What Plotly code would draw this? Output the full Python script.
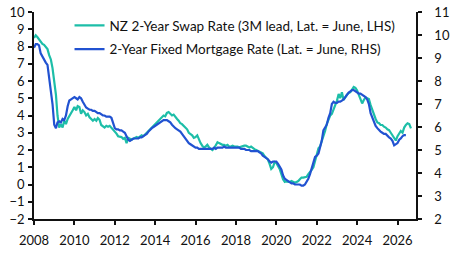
import pandas as pd
import plotly.graph_objects as go

swap_name = "NZ 2-Year Swap Rate (3M lead, Lat. = June, LHS)"
mort_name = "2-Year Fixed Mortgage Rate (Lat. = June, RHS)"

# NZ 2-year swap rate, monthly from Jan 2008 (shifted 3 months ahead), LHS
swap = [
    8.5, 8.65, 8.55, 8.42, 8.35, 8.15, 8.1, 7.95, 7.85, 7.5, 7.25, 6.75,   # 2008
    6.1, 5.2, 4.0, 3.3, 3.5, 3.3, 3.7, 3.5, 3.8, 3.95, 4.1, 4.3,          # 2009
    4.5, 4.3, 4.55, 4.5, 4.1, 4.3, 4.2, 4.0, 4.1, 3.9, 3.8, 3.7,          # 2010
    3.8, 3.7, 3.85, 3.75, 3.45, 3.35, 3.3, 3.4, 3.35, 3.4, 3.3, 3.15,     # 2011
    3.1, 2.95, 2.8, 2.75, 2.75, 2.65, 2.7, 2.4, 2.7, 2.65, 2.6, 2.65,     # 2012
    2.7, 2.75, 2.7, 2.8, 2.85, 2.8, 2.9, 3.0, 3.15, 3.25, 3.35, 3.4,      # 2013
    3.5, 3.6, 3.7, 3.85, 3.95, 4.0, 3.95, 4.15, 4.2, 4.1, 4.0, 4.05,      # 2014
    3.9, 3.8, 3.7, 3.55, 3.5, 3.4, 3.3, 3.2, 3.0, 2.95, 2.85, 2.7,        # 2015
    2.75, 2.85, 2.6, 2.4, 2.25, 2.15, 2.2, 2.3, 2.15, 2.1, 2.0, 2.1,      # 2016
    2.3, 2.45, 2.4, 2.35, 2.3, 2.3, 2.25, 2.3, 2.2, 2.2, 2.25, 2.2,       # 2017
    2.2, 2.2, 2.15, 2.2, 2.2, 2.25, 2.25, 2.2, 2.15, 2.2, 2.1, 2.05,      # 2018
    2.0, 1.95, 1.9, 1.85, 1.8, 1.65, 1.55, 1.45, 1.2, 0.9, 1.0, 1.3,      # 2019
    1.25, 1.1, 0.9, 0.6, 0.3, 0.15, 0.2, 0.15, 0.15, 0.2, 0.15, 0.1,      # 2020
    0.15, 0.2, 0.3, 0.4, 0.4, 0.45, 0.45, 0.6, 0.7, 0.85, 1.0, 1.4,       # 2021
    1.7, 2.1, 2.2, 2.5, 2.7, 3.1, 3.5, 3.8, 4.0, 4.1, 4.4, 4.6,           # 2022
    4.85, 5.25, 5.0, 5.35, 4.9, 5.1, 5.2, 5.3, 5.35, 5.5, 5.65, 5.6,      # 2023
    5.45, 5.2, 4.9, 4.7, 4.9, 5.05, 5.0, 4.95, 4.6, 4.3, 4.0, 3.8,        # 2024
    3.6, 3.55, 3.45, 3.45, 3.35, 3.3, 3.2, 3.15, 3.0, 2.85, 2.7, 2.55,    # 2025
    2.8, 2.95, 3.1, 3.0, 3.3, 3.45, 3.55, 3.5, 3.25,                      # 2026
]

# 2-year fixed mortgage rate, monthly from Jan 2008, RHS
mortgage = [
    9.45, 9.6, 9.6, 9.55, 9.2, 9.05, 8.95, 8.8, 8.7, 8.2, 7.6, 7.0,       # 2008
    6.1, 5.95, 6.2, 6.25, 6.2, 6.35, 6.3, 6.5, 6.9, 7.15, 7.2, 7.25,      # 2009
    7.3, 7.25, 7.2, 7.3, 7.25, 7.1, 6.95, 6.85, 6.8, 6.75, 6.75, 6.7,     # 2010
    6.7, 6.65, 6.6, 6.6, 6.55, 6.5, 6.5, 6.45, 6.45, 6.45, 6.4, 6.2,      # 2011
    5.95, 5.9, 5.9, 5.85, 5.85, 5.8, 5.75, 5.6, 5.45, 5.4, 5.45, 5.5,     # 2012
    5.5, 5.5, 5.5, 5.55, 5.55, 5.6, 5.65, 5.7, 5.8, 5.9, 5.95, 6.0,       # 2013
    6.05, 6.1, 6.15, 6.2, 6.25, 6.3, 6.3, 6.3, 6.25, 6.2, 6.1, 6.0,       # 2014
    5.95, 5.9, 5.85, 5.8, 5.7, 5.6, 5.45, 5.35, 5.3, 5.25, 5.2, 5.15,     # 2015
    5.1, 5.1, 5.05, 5.05, 5.05, 5.05, 5.05, 5.05, 5.05, 5.05, 5.05, 5.1,  # 2016
    5.05, 5.1, 5.1, 5.1, 5.1, 5.15, 5.1, 5.1, 5.1, 5.1, 5.1, 5.1,         # 2017
    5.1, 5.1, 5.1, 5.05, 5.05, 5.05, 5.0, 5.0, 5.0, 4.95, 4.95, 4.95,     # 2018
    4.95, 4.95, 4.9, 4.85, 4.75, 4.7, 4.65, 4.6, 4.5, 4.45, 4.5, 4.5,     # 2019
    4.5, 4.4, 4.3, 4.15, 3.9, 3.75, 3.7, 3.65, 3.6, 3.55, 3.55, 3.5,      # 2020
    3.5, 3.5, 3.5, 3.45, 3.45, 3.5, 3.6, 3.75, 3.95, 4.15, 4.45, 4.7,     # 2021
    4.75, 4.85, 5.1, 5.4, 5.85, 5.95, 6.1, 6.4, 6.6, 7.0, 7.1, 7.05,      # 2022
    7.05, 7.1, 7.1, 7.15, 7.2, 7.3, 7.4, 7.5, 7.55, 7.6, 7.6, 7.55,       # 2023
    7.5, 7.45, 7.45, 7.4, 7.35, 7.3, 7.2, 7.0, 6.6, 6.4, 6.2, 6.05,       # 2024
    5.95, 5.85, 5.8, 5.75, 5.7, 5.7, 5.6, 5.55, 5.5, 5.4, 5.2, 5.25,      # 2025
    5.3, 5.45, 5.5, 5.6, 5.65, 5.65,                                      # 2026
]

swap_dates = pd.date_range("2008-01-01", periods=len(swap), freq="MS")
mort_dates = pd.date_range("2008-01-01", periods=len(mortgage), freq="MS")

left_ticks = list(range(-2, 11))
right_ticks = list(range(2, 12))

TEAL = "#1DBEA8"
BLUE = "#2152D1"
FONT = "Lato"

fig = go.Figure()
fig.add_trace(go.Scatter(x=swap_dates, y=swap, name=swap_name, mode="lines",
                         line=dict(color=TEAL, width=2.2), legend="legend"))
fig.add_trace(go.Scatter(x=mort_dates, y=mortgage, name=mort_name, mode="lines",
                         line=dict(color=BLUE, width=2.2), yaxis="y2", legend="legend2"))

axis_common = dict(showgrid=False, zeroline=False, showline=True, linecolor="#111",
                   linewidth=1.5, ticks="outside", ticklen=4, tickwidth=1.5,
                   automargin=False,
                   tickcolor="#111", tickfont=dict(family=FONT, size=13, color="#111"))

fig.update_layout(
    width=451, height=253,
    margin=dict(l=34, r=35, t=11, b=34),
    paper_bgcolor="white", plot_bgcolor="white",
    font=dict(family=FONT, size=13, color="#111"),
    xaxis=dict(range=["2008-01-01", "2026-12-01"], dtick="M24", tick0="2008-01-01",
               tickformat="%Y", ticklabelstandoff=5, **axis_common),
    yaxis=dict(range=[-2, 10], tickvals=left_ticks, ticklabelstandoff=1, **axis_common),
    yaxis2=dict(range=[2, 11], tickvals=right_ticks, overlaying="y", side="right",
                ticklabelstandoff=10, **axis_common),
    legend=dict(x=0.093, y=0.93, xanchor="left", yanchor="middle",
                bgcolor="rgba(0,0,0,0)", font=dict(family=FONT, size=13.5, color="#111")),
    legend2=dict(x=0.093, y=0.816, xanchor="left", yanchor="middle",
                 bgcolor="rgba(0,0,0,0)", font=dict(family=FONT, size=13.5, color="#111")),
    showlegend=True,
)

fig.write_html("out.html")
